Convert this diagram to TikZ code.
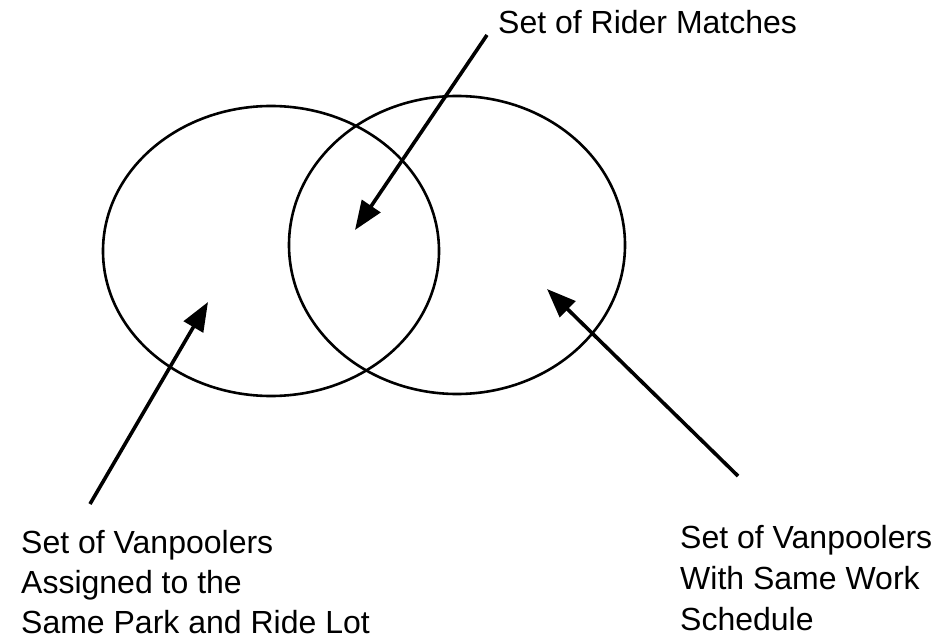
\documentclass[tikz,border=0pt]{standalone}
\usepackage{fontspec}
\setmainfont{Liberation Sans}
\usetikzlibrary{arrows.meta}
\tikzset{
  setline/.style={line width=2.6pt},
  pointer/.style={line width=3.6pt, -{Triangle[length=29pt,width=22pt]}},
  caption/.style={inner sep=0pt, anchor=base west, font=\fontsize{32}{40}\selectfont},
}
\begin{document}
\begin{tikzpicture}[x=1pt,y=-1pt]
  \fill[white] (0,0) rectangle (944,644);
  \useasboundingbox (0,0) rectangle (944,644);

  % the two sets
  \draw[setline] (271,251) ellipse [x radius=168, y radius=145];
  \draw[setline] (457,245) ellipse [x radius=168, y radius=149];

  % labels
  \node[caption] (matches) at (498,34) {Set of Rider Matches};

  \node[caption] (pr1) at (21,553) {Set of Vanpoolers};
  \node[caption] (pr2) at (21,593) {Assigned to the};
  \node[caption] (pr3) at (21,633) {Same Park and Ride Lot};

  \node[caption] (ws1) at (680,548) {Set of Vanpoolers};
  \node[caption] (ws2) at (680,589) {With Same Work};
  \node[caption] (ws3) at (680,630) {Schedule};

  % arrow tails and tips
  \coordinate (t1) at (487,35);
  \coordinate (h1) at (355,230);
  \coordinate (t2) at (90,504);
  \coordinate (h2) at (208,302);
  \coordinate (t3) at (738,476);
  \coordinate (h3) at (547,289);

  \draw[pointer] (t1) -- (h1);
  \draw[pointer] (t2) -- (h2);
  \draw[pointer] (t3) -- (h3);
\end{tikzpicture}
\end{document}
